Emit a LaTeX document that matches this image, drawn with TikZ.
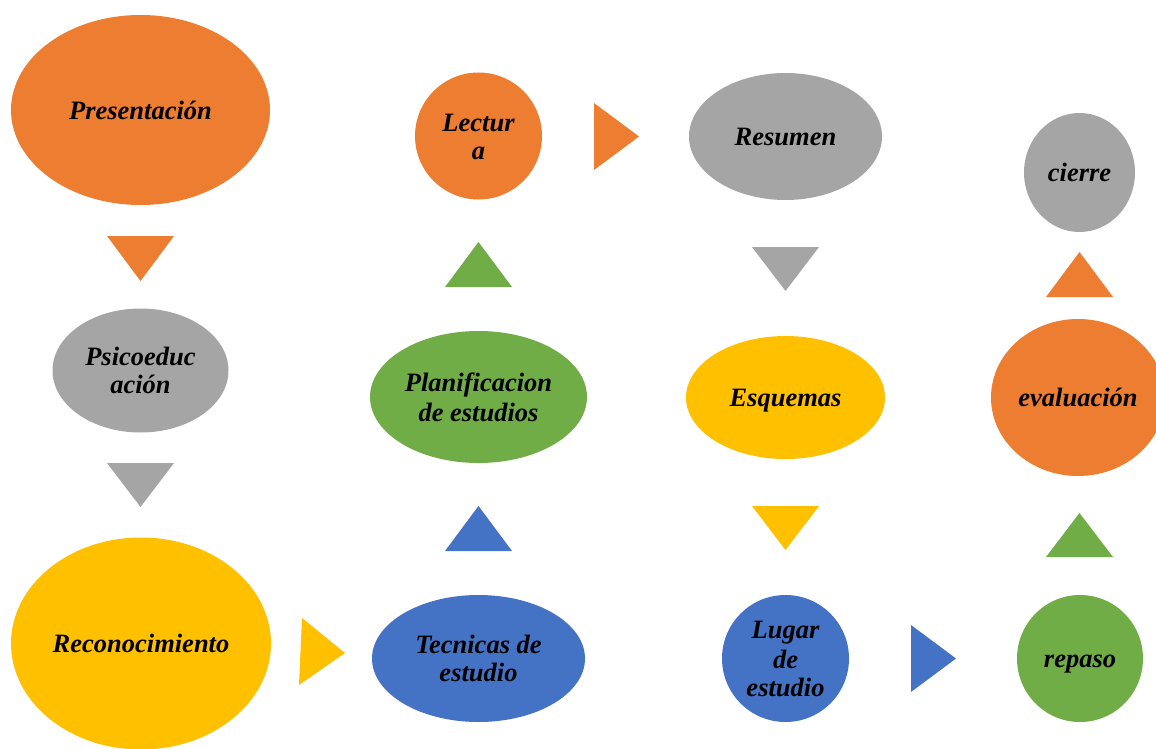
\documentclass[tikz,border=0pt]{standalone}
\usepackage{fontspec}
\setmainfont{Liberation Serif}
\usetikzlibrary{shapes.geometric}
\definecolor{cOrange}{HTML}{ED7D31}
\definecolor{cGray}{HTML}{A5A5A5}
\definecolor{cYellow}{HTML}{FFC000}
\definecolor{cBlue}{HTML}{4472C4}
\definecolor{cGreen}{HTML}{70AD47}
\newcommand\lnstrut{\rule[-4.8pt]{0pt}{28pt}}
\begin{document}
\begin{tikzpicture}[x=1pt,y=-1pt,
  bub/.style={ellipse, inner sep=0pt, outer sep=0pt, align=center, text=black,
    font=\fontsize{26.5}{28}\selectfont\bfseries\itshape}]
\useasboundingbox (0,0) rectangle (1156,749);
\clip (0,0) rectangle (1156,749);
% column 1
\node[bub, fill=cOrange, minimum width=259pt, minimum height=190pt] (pres) at (140.5,110) {\lnstrut Presentación};
\node[bub, fill=cGray, minimum width=176pt, minimum height=124pt] (psico) at (140.5,370.5) {\lnstrut Psicoeduc\\\lnstrut ación};
\node[bub, fill=cYellow, minimum width=260pt, minimum height=212pt] (recon) at (141,643.5) {\lnstrut Reconocimiento};
% column 2
\node[bub, fill=cOrange, minimum width=127pt, minimum height=127pt] (lect) at (478.5,136) {\lnstrut Lectur\\\lnstrut a};
\node[bub, fill=cGreen, minimum width=217pt, minimum height=132pt] (plan) at (478.5,397) {\lnstrut Planificacion\\\lnstrut de estudios};
\node[bub, fill=cBlue, minimum width=213pt, minimum height=127pt] (tec) at (478.5,658.5) {\lnstrut Tecnicas de\\\lnstrut estudio};
% column 3
\node[bub, fill=cGray, minimum width=193pt, minimum height=127pt] (res) at (785.5,136.5) {\lnstrut Resumen};
\node[bub, fill=cYellow, minimum width=199pt, minimum height=123pt] (esq) at (785.5,397.5) {\lnstrut Esquemas};
\node[bub, fill=cBlue, minimum width=127pt, minimum height=127pt] (lug) at (785.5,658.5) {\lnstrut Lugar\\\lnstrut de\\\lnstrut estudio};
% column 4
\node[bub, fill=cGray, minimum width=111pt, minimum height=119pt] (cie) at (1079.5,172.5) {\lnstrut cierre};
\node[bub, fill=cOrange, minimum width=174pt, minimum height=157pt] (eva) at (1078,397.5) {\lnstrut evaluación};
\node[bub, fill=cGreen, minimum width=126pt, minimum height=127pt] (rep) at (1080,658.5) {\lnstrut repaso};
% triangles
\fill[cOrange] (107,236) -- (174,236) -- (140.5,281) -- cycle;
\fill[cGray] (107,463) -- (174,463) -- (140.5,507) -- cycle;
\fill[cYellow] (302,618) -- (299,685) -- (345,653) -- cycle;
\fill[cBlue] (445,551) -- (512,551) -- (478.5,506) -- cycle;
\fill[cGreen] (445,287) -- (512,287) -- (478.5,242) -- cycle;
\fill[cOrange] (594,103) -- (594,170) -- (639,136.5) -- cycle;
\fill[cGray] (752,247) -- (819,247) -- (785.5,291) -- cycle;
\fill[cYellow] (752,506) -- (819,506) -- (785.5,550) -- cycle;
\fill[cBlue] (911,625) -- (911,692) -- (956,658.5) -- cycle;
\fill[cGreen] (1046,557) -- (1113,557) -- (1079.5,513) -- cycle;
\fill[cOrange] (1046,297) -- (1113,297) -- (1079.5,252) -- cycle;
\end{tikzpicture}
\end{document}
